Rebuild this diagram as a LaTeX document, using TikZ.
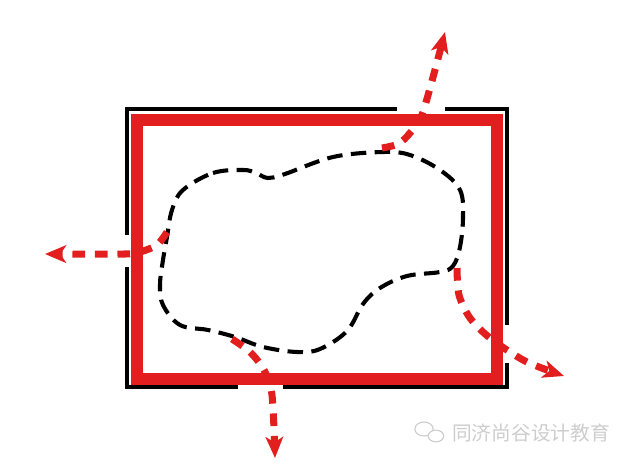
\documentclass[tikz,border=0pt]{standalone}
\usepackage{fontspec}
\newfontfamily\cjk{Noto Sans CJK SC}
\usetikzlibrary{arrows.meta}
\definecolor{wallred}{RGB}{226,30,30}
\definecolor{markgray}{RGB}{205,205,205}

\begin{document}
\begin{tikzpicture}[x=0.025cm, y=-0.025cm,
	wall/.style={line width=2.8pt, black},
	frame/.style={line width=8.8pt, wallred},
	zone/.style={line width=2.9pt, black, dash pattern=on 11pt off 6pt},
	flow/.style={line width=5pt, wallred, dash pattern=on 9pt off 7pt,
		-{Stealth[length=15pt, width=12.5pt, inset=4pt]}}]
	\useasboundingbox (0,0) rectangle (640,465);
	% outer wall with openings
	\draw[wall] (397,109) -- (127,109) -- (127,235);
	\draw[wall] (127,267) -- (127,387) -- (238,387);
	\draw[wall] (283,387) -- (507,387) -- (507,363);
	\draw[wall] (507,325) -- (507,109) -- (445,109);
	% red frame
	\draw[frame] (137,120) rectangle (497,379);
	% dashed zone
	\draw[zone] plot[smooth cycle, tension=0.6] coordinates {
		(183,190) (213,173) (243,170) (256,173) (268,178) (285,174)
		(333,157) (383,152) (410,155) (440,170) (460,190) (463,217)
		(460,247) (453,266) (440,272) (407,276) (380,288) (363,304)
		(347,331) (320,349) (297,352) (263,347) (235,337) (208,330)
		(180,325) (163,305) (160,285) (163,260) (167,237) (172,210)};
	% flows out
	\draw[flow] plot[smooth] coordinates {(382,148) (398,144) (410,133) (423,112) (445,32)};
	\draw[flow] plot[smooth] coordinates {(167,232) (157,245) (140,252) (125,254) (45,254)};
	\draw[flow] plot[smooth] coordinates {(232,339) (250,352) (264,370) (272,395) (275,458)};
	\draw[flow] plot[smooth] coordinates {(457,268) (459,295) (470,318) (490,338) (525,361) (564,376)};
	% watermark
	\draw[markgray, line width=0.8pt] (424,429) ellipse (6.5pt and 5pt);
	\draw[markgray, line width=0.8pt, fill=white] (436,436) ellipse (5.5pt and 4.2pt);
	\node[markgray, anchor=west, inner sep=0pt, font=\cjk\fontsize{14}{16}\selectfont] (mark) at (452,433) {同济尚谷设计教育};
\end{tikzpicture}
\end{document}
